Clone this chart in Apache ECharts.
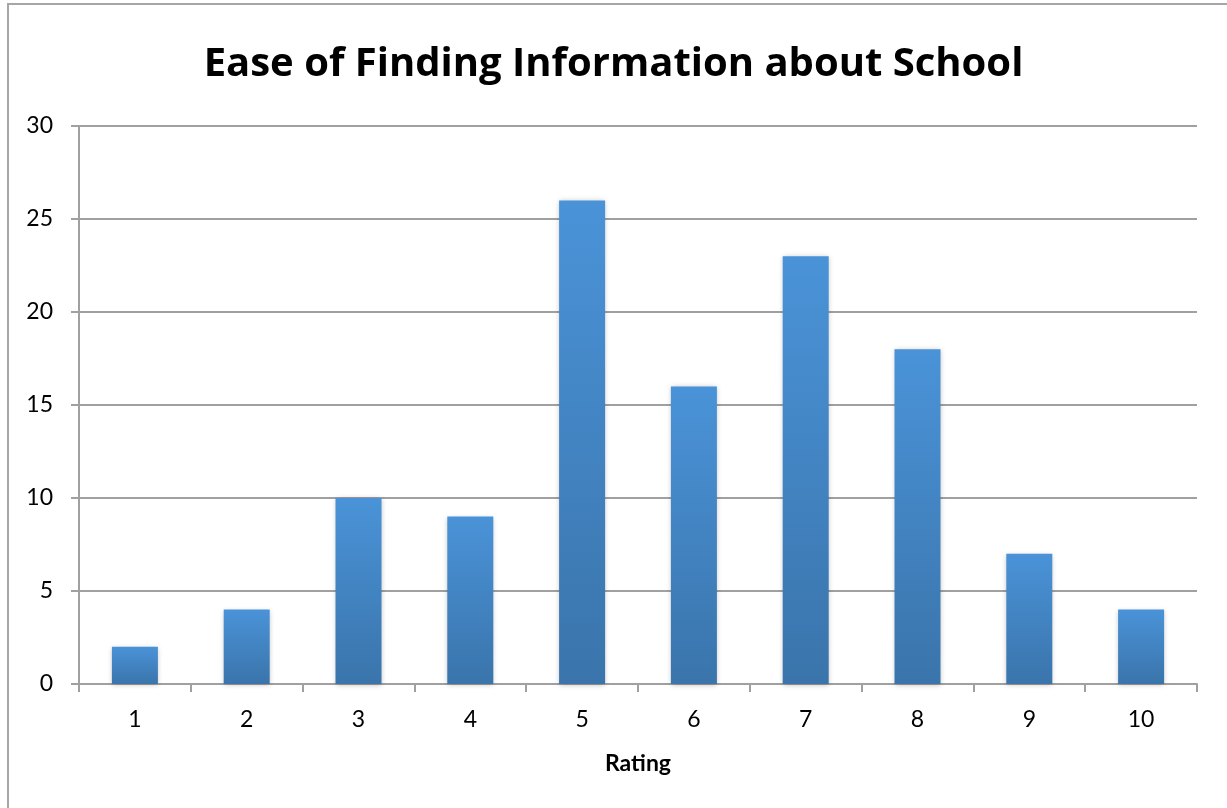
<!DOCTYPE html>
<html>
<head>
<meta charset="utf-8">
<script src="https://cdn.jsdelivr.net/npm/echarts@6/dist/echarts.min.js"></script>
<style>
  html, body { margin: 0; padding: 0; background: #fff; }
  #main { width: 1227px; height: 808px; }
</style>
</head>
<body>
<div id="main"></div>
<script>
// 数据
var ratings = ['1', '2', '3', '4', '5', '6', '7', '8', '9', '10'];
var counts = [2, 4, 10, 9, 26, 16, 23, 18, 7, 4];

var chart = echarts.init(document.getElementById('main'));
var option = {
    backgroundColor: '#fff',
    animation: false,
    title: {
        text: 'Ease of Finding Information about School',
        left: 'center',
        top: 40,
        textStyle: {
            fontFamily: 'Open Sans',
            fontWeight: 'bold',
            fontSize: 40,
            color: '#000'
        }
    },
    // 外框
    graphic: [{
        type: 'rect',
        shape: { x: 8, y: 4, width: 1230, height: 820 },
        style: { fill: 'none', stroke: '#a6a6a6', lineWidth: 2 },
        silent: true
    }],
    grid: {
        left: 79,
        right: 30,
        top: 126,
        bottom: 124
    },
    xAxis: {
        type: 'category',
        data: ratings,
        name: 'Rating',
        nameLocation: 'middle',
        nameGap: 68,
        nameTextStyle: {
            fontFamily: 'Lato',
            fontWeight: 'bold',
            fontSize: 23,
            color: '#000'
        },
        axisLine: { lineStyle: { color: '#a0a0a0', width: 2 } },
        axisTick: { show: true, alignWithLabel: false, length: 8, lineStyle: { color: '#a0a0a0', width: 2 } },
        axisLabel: {
            fontFamily: 'Lato',
            fontSize: 23,
            color: '#000',
            margin: 24
        }
    },
    yAxis: {
        type: 'value',
        min: 0,
        max: 30,
        interval: 5,
        axisLine: { show: true, lineStyle: { color: '#a0a0a0', width: 2 } },
        axisTick: { show: true, length: 8, lineStyle: { color: '#a0a0a0', width: 2 } },
        splitLine: { show: true, lineStyle: { color: '#a0a0a0', width: 2 } },
        axisLabel: {
            fontFamily: 'Lato',
            fontSize: 23,
            color: '#000',
            margin: 26
        }
    },
    series: [{
        type: 'bar',
        data: counts,
        barWidth: 46,
        itemStyle: {
            color: new echarts.graphic.LinearGradient(0, 0, 0, 1, [
                { offset: 0, color: '#4a93d8' },
                { offset: 1, color: '#3a74ab' }
            ]),
            shadowColor: 'rgba(0,0,0,0.25)',
            shadowBlur: 5,
            shadowOffsetY: 1
        }
    }]
};
chart.setOption(option);
</script>
</body>
</html>
